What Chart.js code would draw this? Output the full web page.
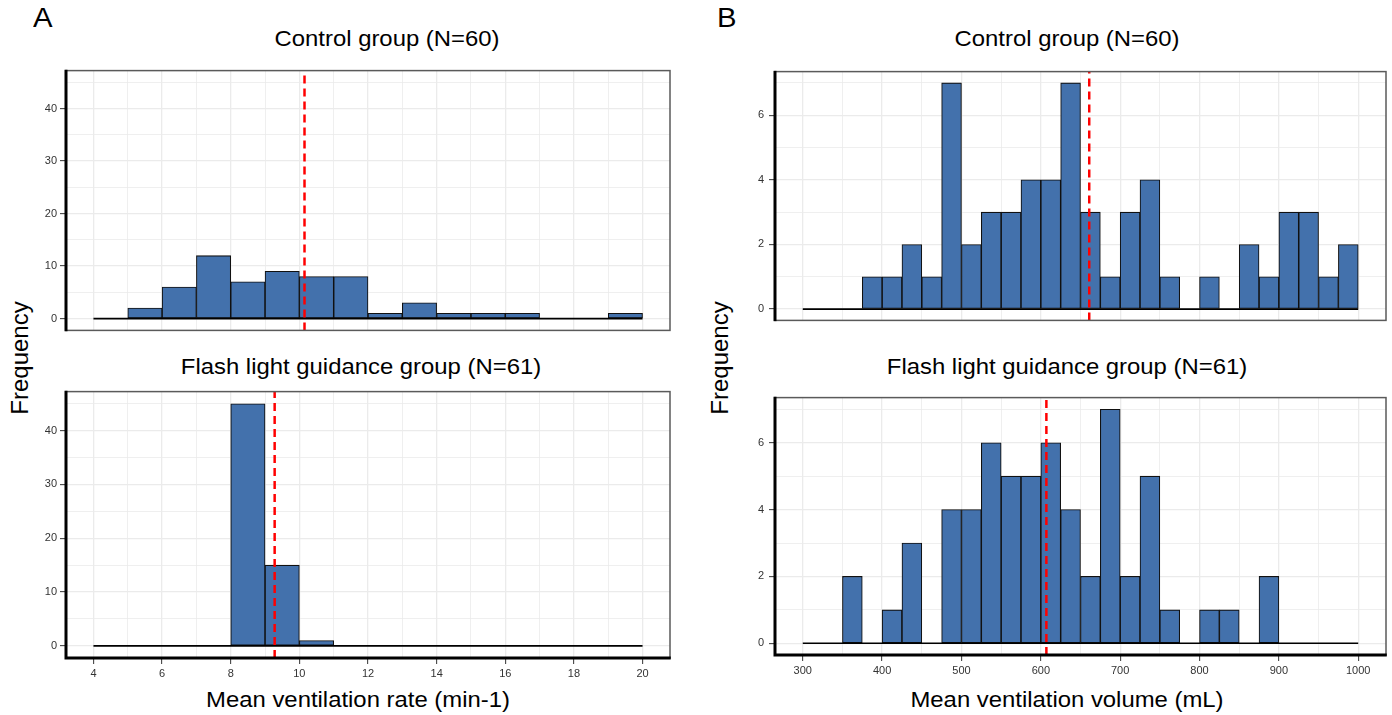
<!DOCTYPE html>
<html>
<head>
<meta charset="utf-8">
<title>Mean ventilation rate and volume</title>
<style>
  body { margin: 0; background: #fff; font-family: "Liberation Sans", Arial, sans-serif; }
  #page { position: relative; width: 1392px; height: 715px; overflow: hidden; }
  canvas { position: absolute; }
  .txt { position: absolute; line-height: 1; white-space: nowrap; color: #000; }
  .title { font-size: 22px; transform: translateX(-50%) scaleX(1.085); }
  .letter { font-size: 27px; transform: scaleX(1.085); transform-origin: left; }
  .ylab { font-size: 24px; transform: translate(-50%, -50%) rotate(-90deg); }
</style>
</head>
<body>
<div id="page">
  <div class="txt letter" style="left:33px; top:5px">A</div>
  <div class="txt letter" style="left:717px; top:5px">B</div>

  <div class="txt title" style="left:387px; top:28px">Control group (N=60)</div>
  <div class="txt title" style="left:361px; top:356px">Flash light guidance group (N=61)</div>
  <div class="txt title" style="left:358px; top:689px">Mean ventilation rate (min-1)</div>

  <div class="txt title" style="left:1067px; top:28px">Control group (N=60)</div>
  <div class="txt title" style="left:1067px; top:356px">Flash light guidance group (N=61)</div>
  <div class="txt title" style="left:1067px; top:689px">Mean ventilation volume (mL)</div>

  <div class="txt ylab" style="left:20px; top:358px">Frequency</div>
  <div class="txt ylab" style="left:720px; top:358px">Frequency</div>

  <canvas id="a1"></canvas>
  <canvas id="a2"></canvas>
  <canvas id="b1"></canvas>
  <canvas id="b2"></canvas>
</div>

<script src="https://cdn.jsdelivr.net/npm/chart.js"></script>
<script>
// Panel A: mean ventilation rate, bins of 1 /min
const rateBinWidth = 1;
const rateStarts = [4, 5, 6, 7, 8, 9, 10, 11, 12, 13, 14, 15, 16, 17, 18, 19];
const rateControl = [0, 2, 6, 12, 7, 9, 8, 8, 1, 3, 1, 1, 1, 0, 0, 1];
const rateFlash   = [0, 0, 0, 0, 45, 15, 1, 0, 0, 0, 0, 0, 0, 0, 0, 0];
const rateMeans = [10.15, 9.28];
const rateTicks = [4, 6, 8, 10, 12, 14, 16, 18, 20];
const rateFreqTicks = [0, 10, 20, 30, 40];

// Panel B: mean ventilation volume, bins of 25 mL
const volBinWidth = 25;
const volStarts = [300, 325, 350, 375, 400, 425, 450, 475, 500, 525, 550, 575, 600, 625,
                   650, 675, 700, 725, 750, 775, 800, 825, 850, 875, 900, 925, 950, 975];
const volControl = [0, 0, 0, 1, 1, 2, 1, 7, 2, 3, 3, 4, 4, 7,
                    3, 1, 3, 4, 1, 0, 1, 0, 2, 1, 3, 3, 1, 2];
const volFlash   = [0, 0, 2, 0, 1, 3, 0, 4, 4, 6, 5, 5, 6, 4,
                    2, 7, 2, 5, 1, 0, 1, 1, 0, 2, 0, 0, 0, 0];
const volMeans = [661, 607];
const volTicks = [300, 400, 500, 600, 700, 800, 900, 1000];
const volFreqTicks = [0, 2, 4, 6];

const BAR = '#4371ac';
const GRID = '#ebebeb';
const TICKTXT = '#333';

// major breaks plus ggplot-style minor breaks halfway between
function withMinor(majors, min, max) {
  const step = majors[1] - majors[0];
  const out = [];
  majors.forEach(m => {
    [m - step / 2, m, m + step / 2].forEach(v => {
      if (v >= min && v <= max && !out.includes(v)) out.push(v);
    });
  });
  return out.sort((a, b) => a - b);
}

function expand(lo, hi) {
  const d = (hi - lo) * 0.05;
  return [lo - d, hi + d];
}

const frame = {
  id: 'frame',
  afterDraw(chart, args, o) {
    const { ctx, chartArea: a } = chart;
    ctx.save();
    ctx.strokeStyle = '#5a5a5a';
    ctx.lineWidth = 1.5;
    ctx.strokeRect(a.left, a.top, a.right - a.left, a.bottom - a.top);
    ctx.strokeStyle = '#000';
    ctx.lineWidth = 3;
    ctx.beginPath();
    ctx.moveTo(a.left, a.top - 0.75);
    ctx.lineTo(a.left, a.bottom + (o.bottomAxis ? 1.5 : 0.75));
    if (o.bottomAxis) {
      ctx.moveTo(a.left - 1.5, a.bottom);
      ctx.lineTo(a.right + 0.75, a.bottom);
    }
    ctx.stroke();
    ctx.restore();
  }
};

function makeHist(id, box, d) {
  const pad = 3;
  const cv = document.getElementById(id);
  cv.style.left = (box.left - box.yW) + 'px';
  cv.style.top = (box.top - pad) + 'px';
  cv.width = box.yW + (box.right - box.left) + pad;
  cv.height = pad + (box.bottom - box.top) + box.xH + pad;

  const [xMin, xMax] = expand(d.starts[0], d.starts[d.starts.length - 1] + d.width);
  const [yMin, yMax] = expand(0, d.yTop);
  const xGrid = withMinor(d.xTicks, xMin, xMax);
  const yGrid = withMinor(d.yTicks, yMin, yMax);
  const isMajorX = v => d.xTicks.includes(v);
  const isMajorY = v => d.yTicks.includes(v);
  const first = d.starts[0], last = d.starts[d.starts.length - 1] + d.width;

  new Chart(cv, {
    type: 'bar',
    data: {
      datasets: [
        {
          type: 'line',
          order: 0,
          data: [{ x: d.mean, y: yMin }, { x: d.mean, y: yMax }],
          borderColor: '#ff0000',
          borderWidth: 2.5,
          borderDash: [8, 5],
          pointRadius: 0
        },
        {
          type: 'line',
          order: 1,
          data: [{ x: first, y: 0 }, { x: last, y: 0 }],
          borderColor: '#000',
          borderWidth: 1.6,
          pointRadius: 0
        },
        {
          type: 'bar',
          order: 2,
          data: d.starts.map((s, i) => ({ x: s + d.width / 2, y: d.counts[i] })),
          backgroundColor: BAR,
          borderColor: '#111',
          borderWidth: 1.1,
          borderSkipped: false,
          barPercentage: 1,
          categoryPercentage: 1
        }
      ]
    },
    options: {
      responsive: false,
      animation: false,
      layout: { padding: { left: 0, top: pad, right: pad, bottom: pad } },
      plugins: {
        legend: { display: false },
        tooltip: { enabled: false },
        frame: { bottomAxis: d.showX }
      },
      scales: {
        x: {
          type: 'linear',
          min: xMin,
          max: xMax,
          offset: false,
          afterBuildTicks: s => { s.ticks = xGrid.map(v => ({ value: v })); },
          afterFit: s => { s.height = box.xH; },
          border: { display: false },
          grid: {
            offset: false,
            color: GRID,
            lineWidth: c => (isMajorX(c.tick.value) ? 1.3 : 0.8),
            drawTicks: d.showX,
            tickLength: 6,
            tickWidth: 1,
            tickColor: c => (isMajorX(c.tick.value) ? '#333' : 'rgba(0,0,0,0)')
          },
          ticks: {
            display: d.showX,
            autoSkip: false,
            maxRotation: 0,
            padding: 3,
            color: TICKTXT,
            font: { family: 'Liberation Sans', size: 11 },
            callback: v => (isMajorX(v) ? String(v) : '')
          }
        },
        y: {
          min: yMin,
          max: yMax,
          afterBuildTicks: s => { s.ticks = yGrid.map(v => ({ value: v })); },
          afterFit: s => { s.width = box.yW; },
          border: { display: false },
          grid: {
            color: GRID,
            lineWidth: c => (isMajorY(c.tick.value) ? 1.3 : 0.8),
            tickLength: 6,
            tickWidth: 1,
            tickColor: c => (isMajorY(c.tick.value) ? '#333' : 'rgba(0,0,0,0)')
          },
          ticks: {
            autoSkip: false,
            padding: box.yPad,
            color: TICKTXT,
            font: { family: 'Liberation Sans', size: 11 },
            callback: v => (isMajorY(v) ? String(v) : '')
          }
        }
      }
    },
    plugins: [frame]
  });
}

const rateTop = Math.max(...rateControl, ...rateFlash);
const volTop = Math.max(...volControl, ...volFlash);

const rateCommon = { starts: rateStarts, width: rateBinWidth, xTicks: rateTicks, yTicks: rateFreqTicks, yTop: rateTop };
const volCommon = { starts: volStarts, width: volBinWidth, xTicks: volTicks, yTicks: volFreqTicks, yTop: volTop };

makeHist('a1', { left: 66, right: 670, top: 64, bottom: 337, yW: 46, xH: 0, yPad: 3 },
  Object.assign({}, rateCommon, { counts: rateControl, mean: rateMeans[0], showX: false }));
makeHist('a2', { left: 66, right: 670, top: 385, bottom: 658, yW: 46, xH: 26, yPad: 3 },
  Object.assign({}, rateCommon, { counts: rateFlash, mean: rateMeans[1], showX: true }));
makeHist('b1', { left: 775, right: 1386, top: 63, bottom: 329, yW: 55, xH: 0, yPad: 5 },
  Object.assign({}, volCommon, { counts: volControl, mean: volMeans[0], showX: false }));
makeHist('b2', { left: 775, right: 1386, top: 389, bottom: 655, yW: 55, xH: 26, yPad: 5 },
  Object.assign({}, volCommon, { counts: volFlash, mean: volMeans[1], showX: true }));
</script>
</body>
</html>
